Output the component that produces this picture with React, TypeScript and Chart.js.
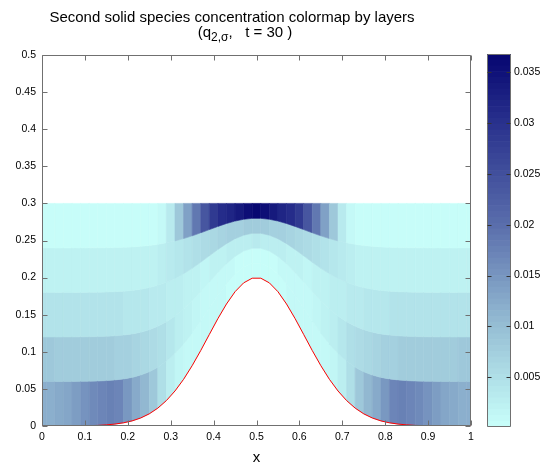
import React, { useEffect, useRef } from 'react';
import { Chart, registerables } from 'chart.js';

Chart.register(...registerables);

const FONT = '"Liberation Sans", Arial, Helvetica, sans-serif';

// ---- tick labels ----
const xTicks = [0, 0.1, 0.2, 0.3, 0.4, 0.5, 0.6, 0.7, 0.8, 0.9, 1];
const yTicks = [0, 0.05, 0.1, 0.15, 0.2, 0.25, 0.3, 0.35, 0.4, 0.45, 0.5];
const cbTicks = [0.005, 0.01, 0.015, 0.02, 0.025, 0.03, 0.035];

// ---- geometry: cell edges (cells centred at 0, 0.02, ..., 1) and bottom profile at those edges ----
const edgeX = [
  0, 0.01, 0.03, 0.05, 0.07, 0.09, 0.11, 0.13, 0.15, 0.17, 0.19, 0.21, 0.23, 0.25, 0.27, 0.29, 0.31, 0.33, 0.35,
  0.37, 0.39, 0.41, 0.43, 0.45, 0.47, 0.49, 0.51, 0.53, 0.55, 0.57, 0.59, 0.61, 0.63, 0.65, 0.67, 0.69, 0.71,
  0.73, 0.75, 0.77, 0.79, 0.81, 0.83, 0.85, 0.87, 0.89, 0.91, 0.93, 0.95, 0.97, 0.99, 1,
];
const bed = [
  0, 0, 0, 0.0001, 0.0001, 0.0002, 0.0005, 0.0008, 0.0015, 0.0026, 0.0043, 0.0069, 0.0108, 0.0164, 0.0241,
  0.0343, 0.0472, 0.0629, 0.0813, 0.1017, 0.1233, 0.1447, 0.1644, 0.181, 0.1929, 0.1992, 0.1992, 0.1929, 0.181,
  0.1644, 0.1447, 0.1233, 0.1017, 0.0813, 0.0629, 0.0472, 0.0343, 0.0241, 0.0164, 0.0108, 0.0069, 0.0043,
  0.0026, 0.0015, 0.0008, 0.0005, 0.0002, 0.0001, 0.0001, 0, 0, 0,
];
const surfaceLevel = 0.3;
const sigmaLevels = [0, 0.2, 0.4, 0.6, 0.8, 1];

// ---- concentration per layer (bottom -> top), per cell (x = 0, 0.02, ..., 1) ----
const layer1 = [
  0.0116, 0.0118, 0.0124, 0.013, 0.0143, 0.0155, 0.0166, 0.0173, 0.0176, 0.0172, 0.015, 0.0125, 0.0106, 0.0084,
  0.0048, 0.0024, 0.0014, 0.0011, 0.0009, 0.0008, 0.0007, 0.0007, 0.0006, 0.0006, 0.0005, 0.0005,
  0.0005, 0.0006, 0.0006, 0.0007, 0.0007, 0.0008, 0.0009, 0.0011, 0.0014, 0.0024, 0.0048, 0.0084, 0.0106,
  0.0125, 0.015, 0.0172, 0.0176, 0.0173, 0.0166, 0.0155, 0.0143, 0.013, 0.0124, 0.0118, 0.0116,
];
const layer2 = [
  0.0082, 0.0082, 0.0081, 0.0081, 0.008, 0.0079, 0.0078, 0.0077, 0.0076, 0.0074, 0.0072, 0.0068, 0.0063, 0.0056,
  0.0048, 0.0038, 0.0029, 0.0021, 0.0015, 0.0011, 0.0009, 0.0008, 0.0007, 0.0006, 0.0006, 0.0006,
  0.0006, 0.0006, 0.0007, 0.0008, 0.0009, 0.0011, 0.0015, 0.0021, 0.0029, 0.0038, 0.0048, 0.0056, 0.0063,
  0.0068, 0.0072, 0.0074, 0.0076, 0.0077, 0.0078, 0.0079, 0.008, 0.0081, 0.0081, 0.0082, 0.0082,
];
const layer3 = [
  0.0046, 0.0046, 0.0046, 0.0045, 0.0045, 0.0044, 0.0044, 0.0043, 0.0043, 0.0042, 0.0041, 0.0039, 0.0037, 0.0035,
  0.0032, 0.0029, 0.0026, 0.0022, 0.0019, 0.0018, 0.0019, 0.0021, 0.0024, 0.0027, 0.0029, 0.003,
  0.0029, 0.0027, 0.0024, 0.0021, 0.0019, 0.0018, 0.0019, 0.0022, 0.0026, 0.0029, 0.0032, 0.0035, 0.0037,
  0.0039, 0.0041, 0.0042, 0.0043, 0.0043, 0.0044, 0.0044, 0.0045, 0.0045, 0.0046, 0.0046, 0.0046,
];
const layer4 = [
  0.0022, 0.0022, 0.0022, 0.0022, 0.0022, 0.0022, 0.0022, 0.0022, 0.0022, 0.0022, 0.0022, 0.0022, 0.0022, 0.0023,
  0.0025, 0.003, 0.0036, 0.0043, 0.005, 0.0056, 0.0062, 0.0067, 0.0071, 0.0075, 0.0078, 0.0079,
  0.0078, 0.0075, 0.0071, 0.0067, 0.0062, 0.0056, 0.005, 0.0043, 0.0036, 0.003, 0.0025, 0.0023, 0.0022,
  0.0022, 0.0022, 0.0022, 0.0022, 0.0022, 0.0022, 0.0022, 0.0022, 0.0022, 0.0022, 0.0022, 0.0022,
];
const layer5 = [
  0.0004, 0.0004, 0.0004, 0.0004, 0.0004, 0.0004, 0.0004, 0.0004, 0.0004, 0.0004, 0.0004, 0.0004, 0.0004, 0.0004,
  0.001, 0.0031, 0.0084, 0.0137, 0.0186, 0.024, 0.0282, 0.0306, 0.0322, 0.0337, 0.0355, 0.0366,
  0.0355, 0.0337, 0.0322, 0.0306, 0.0282, 0.024, 0.0186, 0.0137, 0.0084, 0.0031, 0.001, 0.0004, 0.0004,
  0.0004, 0.0004, 0.0004, 0.0004, 0.0004, 0.0004, 0.0004, 0.0004, 0.0004, 0.0004, 0.0004, 0.0004,
];
const layers = [layer1, layer2, layer3, layer4, layer5];

// ---- colour scale ----
const cMin = 0.0001;
const cMax = 0.0368;
const nLevels = 64;
const cmapStops: [number, number[]][] = [
  [0, [200, 255, 250]],
  [0.27, [150, 190, 212]],
  [0.54, [90, 110, 172]],
  [0.82, [40, 48, 140]],
  [1, [5, 5, 112]],
];

function cmap(t: number): string {
  const tt = Math.max(0, Math.min(1, t));
  for (let i = 0; i < cmapStops.length - 1; i++) {
    const [t0, c0] = cmapStops[i];
    const [t1, c1] = cmapStops[i + 1];
    if (tt <= t1) {
      const f = (tt - t0) / (t1 - t0);
      const c = c0.map((v, k) => Math.round(v + (c1[k] - v) * f));
      return `rgb(${c[0]},${c[1]},${c[2]})`;
    }
  }
  const c = cmapStops[cmapStops.length - 1][1];
  return `rgb(${c[0]},${c[1]},${c[2]})`;
}

function levelIndex(v: number): number {
  let i = Math.floor(((v - cMin) / (cMax - cMin)) * nLevels);
  if (i < 0) i = 0;
  if (i > nLevels - 1) i = nLevels - 1;
  return i;
}
function colorFor(v: number): string {
  return cmap((levelIndex(v) + 0.5) / nLevels);
}

const fmt = (v: number | string) => String(Number(Number(v).toFixed(4)));
const BOX = '#707070';

const cellPlugin = {
  id: 'layerCells',
  beforeDatasetsDraw(chart: any) {
    const { ctx, chartArea, scales } = chart;
    const xs = scales.x;
    const ys = scales.y;
    ctx.save();
    ctx.beginPath();
    ctx.rect(chartArea.left, chartArea.top, chartArea.right - chartArea.left, chartArea.bottom - chartArea.top);
    ctx.clip();
    ctx.lineWidth = 0.6;
    ctx.lineJoin = 'miter';
    for (let k = 0; k < edgeX.length - 1; k++) {
      const xa = xs.getPixelForValue(edgeX[k]);
      const xb = xs.getPixelForValue(edgeX[k + 1]);
      for (let L = 0; L < layers.length; L++) {
        const zA0 = bed[k] + sigmaLevels[L] * (surfaceLevel - bed[k]);
        const zB0 = bed[k + 1] + sigmaLevels[L] * (surfaceLevel - bed[k + 1]);
        const zA1 = bed[k] + sigmaLevels[L + 1] * (surfaceLevel - bed[k]);
        const zB1 = bed[k + 1] + sigmaLevels[L + 1] * (surfaceLevel - bed[k + 1]);
        const col = colorFor(layers[L][k]);
        ctx.beginPath();
        ctx.moveTo(xa, ys.getPixelForValue(zA0));
        ctx.lineTo(xb, ys.getPixelForValue(zB0));
        ctx.lineTo(xb, ys.getPixelForValue(zB1));
        ctx.lineTo(xa, ys.getPixelForValue(zA1));
        ctx.closePath();
        ctx.fillStyle = col;
        ctx.strokeStyle = col;
        ctx.fill();
        ctx.stroke();
      }
    }
    ctx.restore();
  },
};

const boxPlugin = {
  id: 'matlabBox',
  afterDatasetsDraw(chart: any) {
    const { ctx, chartArea, scales } = chart;
    const l = Math.round(chartArea.left) + 0.5;
    const r = Math.round(chartArea.right) - 0.5;
    const t = Math.round(chartArea.top) + 0.5;
    const b = Math.round(chartArea.bottom) - 0.5;
    ctx.save();
    ctx.strokeStyle = BOX;
    ctx.lineWidth = 1;
    ctx.beginPath();
    ctx.rect(l, t, r - l, b - t);
    ctx.stroke();
    const len = 5;
    ctx.beginPath();
    for (const v of xTicks) {
      const px = Math.round(scales.x.getPixelForValue(v)) + 0.5;
      ctx.moveTo(px, b);
      ctx.lineTo(px, b - len);
      ctx.moveTo(px, t);
      ctx.lineTo(px, t + len);
    }
    for (const v of yTicks) {
      const py = Math.round(scales.y.getPixelForValue(v)) + 0.5;
      ctx.moveTo(l, py);
      ctx.lineTo(l + len, py);
      ctx.moveTo(r, py);
      ctx.lineTo(r - len, py);
    }
    ctx.stroke();
    ctx.restore();
  },
};

const cbBoxPlugin = {
  id: 'cbBox',
  afterDatasetsDraw(chart: any) {
    const { ctx, chartArea, scales } = chart;
    const l = Math.round(chartArea.left) + 0.5;
    const r = Math.round(chartArea.right) - 0.5;
    const t = Math.round(chartArea.top) + 0.5;
    const b = Math.round(chartArea.bottom) - 0.5;
    ctx.save();
    ctx.strokeStyle = BOX;
    ctx.lineWidth = 1;
    ctx.beginPath();
    ctx.rect(l, t, r - l, b - t);
    ctx.stroke();
    ctx.strokeStyle = '#333';
    ctx.beginPath();
    const len = 4;
    for (const v of cbTicks) {
      const py = Math.round(scales.y.getPixelForValue(v)) + 0.5;
      ctx.moveTo(l, py);
      ctx.lineTo(l + len, py);
      ctx.moveTo(r, py);
      ctx.lineTo(r - len, py);
    }
    ctx.stroke();
    ctx.restore();
  },
};

export default function App() {
  const mainRef = useRef<HTMLCanvasElement | null>(null);
  const cbRef = useRef<HTMLCanvasElement | null>(null);

  useEffect(() => {
    if (!mainRef.current || !cbRef.current) return;
    const tickFont = { family: FONT, size: 10.5 };

    const main = new Chart(mainRef.current, {
      type: 'line',
      data: {
        datasets: [
          {
            data: edgeX.map((x, i) => ({ x, y: bed[i] })),
            borderColor: '#ff0000',
            borderWidth: 1,
            pointRadius: 0,
            fill: false,
            tension: 0,
            clip: 0,
          } as any,
        ],
      },
      options: {
        animation: false,
        responsive: false,
        events: [],
        layout: { padding: { left: 0, right: 77, top: 55, bottom: 0 } },
        plugins: { legend: { display: false }, tooltip: { enabled: false }, title: { display: false } },
        scales: {
          x: {
            type: 'linear',
            min: 0,
            max: 1,
            afterBuildTicks: (s: any) => {
              s.ticks = xTicks.map((v) => ({ value: v }));
            },
            afterFit: (s: any) => {
              s.height = 42;
            },
            grid: { display: false, drawTicks: false },
            border: { display: false },
            ticks: { padding: 5, color: '#000', font: tickFont, callback: fmt, maxRotation: 0, autoSkip: false },
            title: {
              display: true,
              text: 'x',
              color: '#000',
              font: { family: FONT, size: 15 },
              padding: { top: 0, bottom: 1 },
            },
          },
          y: {
            type: 'linear',
            min: 0,
            max: 0.5,
            afterBuildTicks: (s: any) => {
              s.ticks = yTicks.map((v) => ({ value: v }));
            },
            afterFit: (s: any) => {
              s.width = 42;
            },
            grid: { display: false, drawTicks: false },
            border: { display: false },
            ticks: { padding: 6, color: '#000', font: tickFont, callback: fmt, autoSkip: false },
          },
        },
      } as any,
      plugins: [cellPlugin, boxPlugin],
    });

    const levels = Array.from({ length: nLevels }, (_, i) => {
      const lo = cMin + (i * (cMax - cMin)) / nLevels;
      const hi = cMin + ((i + 1) * (cMax - cMin)) / nLevels;
      return { lo, hi, color: cmap((i + 0.5) / nLevels) };
    });

    const cb = new Chart(cbRef.current, {
      type: 'bar',
      data: {
        labels: ['c'],
        datasets: levels.map((lv) => ({
          data: [[lv.lo, lv.hi]],
          backgroundColor: lv.color,
          borderWidth: 0,
          grouped: false,
          barPercentage: 1,
          categoryPercentage: 1,
        })) as any,
      },
      options: {
        animation: false,
        responsive: false,
        events: [],
        layout: { padding: { left: 487, right: 0, top: 54, bottom: 41 } },
        plugins: { legend: { display: false }, tooltip: { enabled: false } },
        scales: {
          x: { display: false },
          y: {
            position: 'right',
            min: cMin,
            max: cMax,
            afterBuildTicks: (s: any) => {
              s.ticks = cbTicks.map((v) => ({ value: v }));
            },
            afterFit: (s: any) => {
              s.width = 37;
            },
            grid: { display: false, drawTicks: false },
            border: { display: false },
            ticks: { padding: 3, color: '#000', font: tickFont, callback: fmt, autoSkip: false },
          },
        },
      } as any,
      plugins: [cbBoxPlugin],
    });

    return () => {
      main.destroy();
      cb.destroy();
    };
  }, []);

  return (
    <div
      style={{
        position: 'fixed',
        left: 0,
        top: 0,
        width: 548,
        height: 468,
        background: '#fff',
        overflow: 'hidden',
        fontFamily: FONT,
      }}
    >
      <canvas ref={mainRef} width={548} height={468} style={{ position: 'absolute', left: 0, top: 0 }} />
      <canvas ref={cbRef} width={548} height={468} style={{ position: 'absolute', left: 0, top: 0 }} />
      <div
        style={{
          position: 'absolute',
          left: 0,
          top: 8,
          width: 464,
          textAlign: 'center',
          fontSize: 15,
          lineHeight: '17px',
          color: '#000',
          whiteSpace: 'nowrap',
        }}
      >
        Second solid species concentration colormap by layers
      </div>
      <div
        style={{
          position: 'absolute',
          left: 0,
          top: 23,
          width: 490,
          textAlign: 'center',
          fontSize: 15,
          lineHeight: '17px',
          color: '#000',
          whiteSpace: 'pre',
        }}
      >
        (q<span style={{ fontSize: 12, position: 'relative', top: 4 }}>2,σ</span>,   t = 30 )
      </div>
    </div>
  );
}
